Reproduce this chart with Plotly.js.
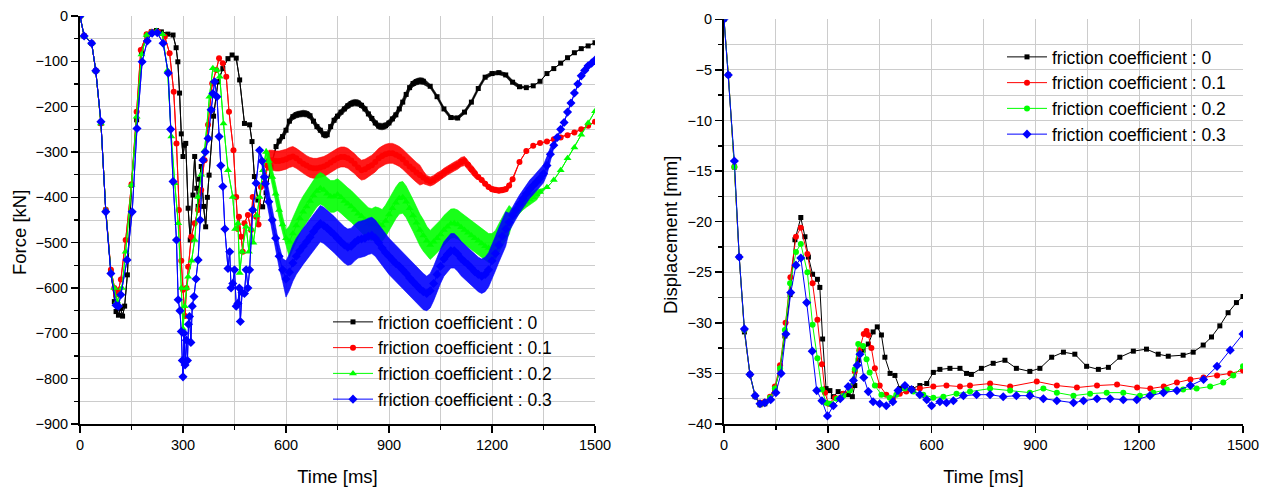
<!DOCTYPE html>
<html>
<head>
<meta charset="utf-8">
<script src="https://cdn.plot.ly/plotly-3.0.1.min.js"></script>
<style>html,body{margin:0;padding:0;background:#fff;}#chart{width:1270px;height:490px;}</style>
</head>
<body>
<div id="chart"></div>
<script>
// ---------- Left chart: Force [kN] vs Time [ms] ----------
const seriesNames = ['friction coefficient : 0','friction coefficient : 0.1','friction coefficient : 0.2','friction coefficient : 0.3'];

const forceT0 = [0,12,34,46,61,75,90,100,105,112,118,124,130,138,150,165,179,194,208,223,237,256,271,280,285,290,295,300,304,308,315,321,329,334,340,344,348,353,360,366,371,376,389,402,416,431,443,455,465,479,494,501,508,518,532,542,556,571,
580,590,600,610,620,630,640,650,660,670,680,690,700,710,720,730,740,750,760,770,780,790,800,810,820,830,840,850,860,870,880,890,900,910,920,930,940,950,960,970,980,990,1000,
1020,1040,1060,1080,1100,1120,1140,1160,1180,1200,1220,1240,1260,1280,1300,1320,1340,1360,1380,1400,1420,1440,1460,1480,1500];
const force0 = [0,-44,-60,-121,-237,-428,-565,-630,-652,-660,-645,-662,-640,-571,-373,-229,-82,-42,-35,-32,-35,-40,-42,-70,-101,-170,-260,-310,-285,-281,-424,-494,-395,-310,-380,-420,-360,-332,-420,-465,-400,-351,-221,-145,-116,-94,-86,-93,-141,-237,-240,-277,-354,-406,-421,-390,-333,-288,
-276,-266,-252,-232,-222,-218,-216,-215,-216,-220,-232,-244,-252,-262,-262,-244,-230,-221,-212,-205,-198,-193,-191,-192,-197,-205,-216,-226,-236,-243,-244,-242,-236,-227,-218,-205,-190,-173,-158,-149,-145,-143,-144,
-155,-178,-205,-224,-225,-212,-190,-160,-135,-127,-125,-130,-146,-156,-158,-154,-144,-127,-116,-104,-92,-81,-72,-66,-59];
const spread0 = [0,0,0,0,0,0,0,0,0,0,0,0,0,0,0,0,0,0,0,0,0,0,0,0,0,0,0,0,0,0,0,0,0,0,0,0,0,0,0,0,0,0,0,0,0,0,0,0,0,0,0,0,0,0,0,0,0,4,
7,7,7,7,7,7,7,7,7,7,7,7,7,7,7,7,7,7,7,7,7,7,7,7,7,7,7,7,7,7,7,7,7,7,7,7,7,7,7,7,7,7,7,
4,4,4,4,4,4,4,4,4,4,4,4,4,4,0,0,0,0,0,0,0,0,0,0,0];

const forceT1 = [0,12,34,46,61,75,90,100,105,112,119,133,150,165,177,194,208,227,247,261,273,281,288,295,300,306,310,315,324,334,344,353,363,373,385,397,405,416,426,434,447,455,460,463,469,474,479,489,498,503,513,520,527,537,545,
550,560,570,580,590,600,610,620,630,640,650,660,670,680,690,700,710,720,730,740,750,760,770,780,790,800,810,820,830,840,850,860,870,880,890,900,910,920,930,940,950,960,970,980,990,1000,
1010,1020,1030,1040,1050,1060,1070,1080,1090,1100,1110,1120,1130,1140,1150,1160,1170,1180,1190,1200,1210,1220,1230,1240,1250,1260,
1280,1300,1320,1340,1360,1380,1400,1420,1440,1460,1480,1500];
const force1 = [0,-44,-60,-121,-237,-428,-560,-600,-615,-605,-581,-494,-371,-211,-75,-40,-35,-35,-46,-82,-167,-281,-428,-540,-604,-662,-600,-553,-487,-457,-428,-384,-318,-240,-149,-119,-93,-104,-134,-211,-296,-399,-470,-443,-487,-520,-457,-439,-472,-399,-443,-460,-377,-369,-330,
-318,-318,-320,-320,-318,-316,-312,-310,-314,-320,-326,-330,-334,-336,-336,-334,-332,-328,-323,-318,-314,-311,-311,-314,-319,-326,-334,-340,-338,-333,-329,-322,-314,-309,-305,-303,-303,-306,-310,-316,-324,-332,-338,-345,-351,-356,
-362,-365,-362,-356,-352,-346,-341,-336,-332,-328,-322,-320,-328,-338,-347,-355,-362,-370,-377,-382,-384,-385,-384,-382,-374,-360,
-322,-298,-286,-280,-277,-272,-268,-263,-257,-250,-242,-233];
const spread1 = [0,0,0,0,0,0,0,0,0,0,0,0,0,0,0,0,0,0,0,0,0,0,0,0,0,0,0,0,0,0,0,0,0,0,0,0,0,0,0,0,0,0,0,0,0,0,0,0,0,0,0,0,0,0,10,
22,22,22,22,22,22,22,22,22,22,22,22,22,22,22,22,22,22,22,22,22,22,22,22,22,22,22,22,22,22,22,22,22,22,22,22,22,22,22,22,22,22,22,22,22,14,
10,10,10,10,10,10,10,10,10,10,10,10,10,10,10,6,6,6,6,6,6,6,6,6,6,3,
0,0,0,0,0,0,0,0,0,0,0,0];

const forceT2 = [0,12,34,46,61,75,90,100,108,115,122,133,150,165,179,194,208,223,240,255,266,276,286,295,300,305,310,315,325,334,344,353,363,377,387,399,407,418,431,445,452,460,465,472,484,492,498,505,515,523,533,542,
550,560,570,580,590,600,610,620,630,640,650,660,670,680,690,700,710,720,730,740,750,760,770,780,790,800,810,820,830,840,850,860,870,880,890,900,910,920,930,940,950,960,970,980,990,1000,
1010,1020,1030,1040,1050,1060,1070,1080,1090,1100,1110,1120,1130,1140,1150,1160,1170,1180,1190,1200,1210,1220,1230,1240,1250,1260,1270,1280,
1290,1300,1310,1320,1330,1340,
1360,1380,1400,1420,1440,1460,1480,1500];
const force2 = [0,-44,-60,-121,-237,-428,-565,-600,-630,-615,-600,-520,-373,-222,-85,-42,-36,-33,-40,-120,-266,-369,-457,-600,-690,-640,-600,-575,-540,-494,-399,-350,-296,-178,-115,-119,-134,-237,-340,-399,-470,-457,-567,-520,-465,-520,-470,-500,-440,-399,-340,-300,
-320,-355,-392,-428,-460,-490,-498,-480,-462,-446,-432,-420,-408,-396,-386,-380,-384,-392,-398,-398,-394,-400,-408,-414,-420,-428,-436,-442,-450,-458,-460,-456,-458,-462,-452,-438,-424,-412,-402,-400,-410,-424,-440,-456,-472,-484,
-496,-505,-498,-490,-482,-472,-465,-458,-457,-460,-466,-472,-478,-484,-490,-496,-502,-508,-512,-512,-505,-490,-475,-462,-450,-440,-430,-421,
-416,-410,-405,-400,-394,-388,
-378,-362,-340,-314,-290,-262,-236,-210];
const spread2 = [0,0,0,0,0,0,0,0,0,0,0,0,0,0,0,0,0,0,0,0,0,0,0,0,0,0,0,0,0,0,0,0,0,0,0,0,0,0,0,0,0,0,0,0,0,0,0,0,0,0,0,8,
18,18,18,18,18,18,35,35,35,35,35,35,35,35,35,35,35,35,35,35,35,35,35,35,35,35,35,35,35,35,35,35,35,35,35,35,35,35,35,35,35,35,35,35,35,35,
32,32,32,32,32,32,32,32,32,32,32,32,32,32,32,32,32,32,32,32,32,32,32,32,32,14,14,14,
12,12,12,12,12,6,
0,0,0,0,0,0,0,0];

const forceT3 = [0,12,34,46,61,75,90,105,112,119,137,152,166,181,196,210,225,242,257,264,271,281,286,291,295,298,300,303,306,310,313,316,319,323,327,332,338,344,350,358,365,373,382,387,392,399,405,410,416,422,431,436,440,445,450,455,460,464,467,472,479,484,489,494,503,513,523,530,537,
540,550,560,570,580,590,600,610,620,630,640,650,660,670,680,690,700,710,720,730,740,750,760,770,780,790,800,810,820,830,840,850,860,870,880,890,900,910,920,930,940,950,960,970,980,990,1000,
1010,1020,1030,1040,1050,1060,1070,1080,1090,1100,1110,1120,1130,1140,1150,1160,1170,1180,1190,1200,1210,1220,1230,1240,1250,1260,1270,1280,1290,1300,1310,1320,1330,1340,1350,1360,1370,
1380,1390,1400,1410,1420,1430,1440,1450,1460,1470,1480,1490,1500];
const force3 = [0,-44,-60,-121,-233,-432,-568,-638,-640,-615,-538,-432,-248,-101,-55,-38,-37,-60,-126,-250,-365,-494,-626,-650,-696,-760,-796,-700,-770,-715,-760,-680,-663,-720,-640,-619,-580,-538,-450,-318,-300,-270,-207,-171,-145,-178,-266,-330,-376,-470,-557,-520,-600,-590,-560,-640,-634,-600,-674,-610,-612,-560,-600,-560,-428,-369,-296,-320,-355,
-370,-410,-450,-490,-530,-560,-580,-565,-545,-530,-518,-508,-498,-488,-476,-466,-458,-462,-468,-475,-482,-490,-498,-505,-510,-508,-500,-494,-492,-490,-486,-484,-490,-500,-512,-522,-530,-538,-546,-552,-560,-568,-578,-586,-594,-602,-608,
-612,-606,-590,-570,-552,-536,-526,-518,-518,-525,-535,-542,-548,-556,-564,-570,-574,-570,-560,-540,-524,-505,-486,-470,-455,-440,-428,-415,-403,-392,-382,-374,-366,-358,-348,-330,-305,
-285,-268,-250,-235,-212,-192,-170,-150,-132,-120,-110,-104,-97];
const spread3 = [0,0,0,0,0,0,0,0,0,0,0,0,0,0,0,0,0,0,0,0,0,0,0,0,0,0,0,0,0,0,0,0,0,0,0,0,0,0,0,0,0,0,0,0,0,0,0,0,0,0,0,0,0,0,0,0,0,0,0,0,0,0,0,0,0,0,0,10,20,
25,25,25,25,25,25,40,40,40,40,40,40,40,40,40,40,40,40,40,40,40,40,40,40,40,40,40,40,40,40,40,40,40,40,40,40,40,40,40,40,40,40,40,40,40,40,40,
38,38,38,38,38,38,38,38,38,38,38,38,38,38,38,38,38,38,38,38,38,38,38,38,20,20,20,20,20,20,20,20,20,20,20,20,15,
6,4,0,0,0,0,0,0,0,0,0,0,0];

// ---------- Right chart: Displacement [mm] vs Time [ms] ----------
const dispT0 = [0,12.5,30,44,59,75,90,104,118,133,147,162,176,191,205,222,234,244,256,270,277,285,295,306,316,330,345,359,371,378,388,402,417,431,443,455,465,480,494,508,523,542,566,586,605,624,653,682,701,715,744,778,812,845,884,913,947,981,1014,1048,1082,1111,1144,1183,1221,1255,1284,1327,1356,1385,1409,1433,1457,1481,1500];
const disp0 = [0,-5.5,-14.6,-23.5,-30.9,-35.1,-37.3,-38.1,-38.0,-37.5,-36.5,-34.6,-31.3,-27.2,-21.8,-19.6,-21.5,-23.5,-25.2,-25.7,-26.5,-31.6,-36.5,-36.7,-37.3,-36.8,-37.0,-37.1,-37.3,-36.2,-33.7,-32.7,-32.1,-30.9,-30.4,-31.2,-33.4,-35.0,-35.2,-36.5,-36.5,-36.5,-36.2,-36.0,-34.9,-34.6,-34.5,-34.5,-35.0,-35.1,-34.5,-34.0,-33.7,-34.5,-34.8,-34.5,-33.4,-32.9,-33.1,-34.3,-34.6,-34.4,-33.4,-32.8,-32.6,-33.1,-33.3,-33.2,-32.9,-32.2,-31.4,-30.3,-29.0,-28.0,-27.4];

const dispT1 = [0,12.5,30,44,59,75,90,104,118,133,147,162,178,192,208,222,241,256,270,283,292,302,321,345,364,378,391,404,412,417,426,436,450,469,488,508,527,547,566,605,643,682,711,769,827,904,962,1020,1078,1136,1194,1232,1271,1309,1348,1386,1425,1463,1500];
const disp1 = [0,-5.5,-14.6,-23.5,-30.7,-35.1,-37.2,-37.9,-37.8,-37.3,-36.3,-34.2,-30.0,-25.5,-21.5,-20.6,-23.2,-26.1,-29.7,-34.1,-36.9,-38.0,-37.4,-37.0,-36.5,-34.8,-32.7,-31.1,-30.8,-31.2,-32.5,-34.5,-36.2,-37.1,-37.5,-37.0,-36.8,-36.7,-36.5,-36.3,-36.2,-36.3,-36.2,-36.0,-36.3,-35.8,-36.2,-36.4,-36.2,-36.1,-36.4,-36.5,-36.3,-35.9,-35.6,-35.4,-35.2,-35.0,-34.7];

const dispT2 = [0,12.5,30,44,59,75,90,104,118,133,147,162,176,191,208,222,241,256,270,283,295,306,326,345,364,378,388,402,412,421,436,455,479,498,523,547,576,605,634,672,711,769,827,884,923,962,1010,1058,1106,1154,1202,1241,1280,1327,1366,1405,1443,1472,1500];
const disp2 = [0,-5.5,-14.6,-23.5,-30.7,-35.1,-37.2,-38.0,-37.9,-37.4,-36.5,-34.5,-30.7,-26.1,-23.0,-22.2,-25.0,-30.2,-33.5,-36.6,-37.9,-38.0,-37.5,-37.2,-36.7,-34.6,-32.1,-32.3,-33.6,-34.9,-36.2,-37.1,-37.4,-37.1,-36.5,-36.8,-37.1,-37.4,-37.3,-37.0,-36.8,-36.5,-36.7,-36.9,-36.5,-36.9,-37.2,-37.0,-36.9,-36.9,-37.2,-36.9,-36.6,-36.6,-36.5,-36.3,-35.9,-35.2,-34.3];

const dispT3 = [0,12.5,30,44,59,75,90,104,118,135,150,165,179,193,208,222,239,255,268,283,299,316,336,359,374,385,393,404,417,431,450,469,488,503,523,542,566,586,600,624,643,663,692,730,769,807,845,884,923,962,1010,1039,1078,1116,1154,1193,1231,1270,1309,1348,1386,1425,1463,1500];
const disp3 = [0,-5.5,-14.0,-23.5,-30.6,-35.1,-37.2,-38.0,-37.9,-37.6,-36.9,-35.0,-31.1,-27.0,-24.3,-23.6,-28.0,-32.8,-36.7,-37.7,-39.2,-38.2,-37.5,-36.3,-35.7,-34.2,-33.1,-35.4,-36.8,-37.8,-38.0,-38.2,-37.8,-36.7,-36.2,-36.6,-37.1,-37.6,-38.2,-37.8,-37.9,-37.7,-37.2,-37.1,-37.1,-37.3,-37.2,-37.2,-37.5,-37.7,-37.9,-37.7,-37.5,-37.5,-37.6,-37.6,-37.2,-36.9,-36.7,-36.2,-35.6,-34.3,-32.7,-31.1];

// ---------- styling ----------
const colors = ['#000000','#ff0000','#00ff00','#0000ff'];
const bandFill = ['rgba(0,0,0,0.9)','rgba(255,0,0,0.9)','rgba(0,255,0,0.9)','rgba(0,0,255,0.9)'];
const leftSymbols = ['square','circle','triangle-up','diamond'];
const rightSymbols = ['square','circle','circle','diamond'];
const symSizes = {'square':5,'circle':6,'triangle-up':7,'diamond':7};

const forceSets = [[forceT0,force0,spread0],[forceT1,force1,spread1],[forceT2,force2,spread2],[forceT3,force3,spread3]];
const dispSets = [[dispT0,disp0],[dispT1,disp1],[dispT2,disp2],[dispT3,disp3]];

const traces = [];
forceSets.forEach(([t,f,s],k)=>{
  const upper = f.map((v,i)=>v+s[i]);
  const lower = f.map((v,i)=>v-s[i]);
  traces.push({x:t,y:upper,xaxis:'x',yaxis:'y',mode:'lines',line:{color:colors[k],width:0.6},showlegend:false,hoverinfo:'skip'});
  traces.push({x:t,y:lower,xaxis:'x',yaxis:'y',mode:'lines',fill:'tonexty',fillcolor:bandFill[k],line:{color:colors[k],width:0.6},showlegend:false,hoverinfo:'skip'});
  traces.push({x:t,y:f,xaxis:'x',yaxis:'y',mode:'lines+markers',name:seriesNames[k],legend:'legend',
    line:{color:colors[k],width:1},marker:{symbol:leftSymbols[k],size:symSizes[leftSymbols[k]],color:colors[k]}});
});
dispSets.forEach(([t,d],k)=>{
  traces.push({x:t,y:d,xaxis:'x2',yaxis:'y2',mode:'lines+markers',name:seriesNames[k],legend:'legend2',
    line:{color:colors[k],width:1},marker:{symbol:rightSymbols[k],size:symSizes[rightSymbols[k]],color:colors[k]}});
});

const W=1270,H=490;
const gridC='#cccccc';
function xax(domain,anchor){
  return {domain:domain,anchor:anchor,range:[0,1500],tick0:0,dtick:300,ticks:'outside',ticklen:7,tickwidth:1.5,tickcolor:'#000',
    showline:true,linecolor:'#000',linewidth:2,showgrid:true,gridcolor:gridC,gridwidth:1,zeroline:false,automargin:false,
    minor:{dtick:150,tick0:0,ticks:'outside',ticklen:4,tickwidth:1.5,tickcolor:'#000',showgrid:true,gridcolor:gridC,gridwidth:1},
    tickfont:{size:14.5,color:'#000'},title:{text:'Time [ms]',font:{size:18.5,color:'#000'},standoff:18}};
}
function yax(domain,anchor,range,dt,mdt){
  return {domain:domain,anchor:anchor,range:range,tick0:0,dtick:dt,ticks:'outside',ticklen:7,tickwidth:1.5,tickcolor:'#000',
    showline:true,linecolor:'#000',linewidth:2,showgrid:true,gridcolor:gridC,gridwidth:1,zeroline:false,automargin:false,
    minor:{dtick:mdt,tick0:0,ticks:'outside',ticklen:4,tickwidth:1.5,tickcolor:'#000',showgrid:true,gridcolor:gridC,gridwidth:1},
    tickfont:{size:14.5,color:'#000'}};
}
const layout = {
  width:W,height:H,margin:{l:0,r:0,t:0,b:0},paper_bgcolor:'#fff',plot_bgcolor:'#fff',
  font:{family:'"Liberation Sans", Arial, sans-serif',size:14.5,color:'#000'},
  xaxis:xax([80/W,595/W],'y'),
  yaxis:yax([66/H,474/H],'x',[-900,0],100,50),
  xaxis2:xax([724/W,1243/W],'y2'),
  yaxis2:yax([66/H,470.7/H],'x2',[-40,0],5,2.5),
  legend:{x:328/W,y:(H-304)/H,xanchor:'left',yanchor:'top',bgcolor:'rgba(0,0,0,0)',borderwidth:0,font:{size:17.5,color:'#000'},itemwidth:40,traceorder:'normal'},
  legend2:{x:1002/W,y:(H-39)/H,xanchor:'left',yanchor:'top',bgcolor:'rgba(0,0,0,0)',borderwidth:0,font:{size:17.5,color:'#000'},itemwidth:40,traceorder:'normal'},
  annotations:[
    {text:'Force [kN]',xref:'paper',yref:'paper',x:19/W,y:(H-233)/H,textangle:-90,showarrow:false,xanchor:'center',yanchor:'middle',font:{size:18.5,color:'#000'}},
    {text:'Displacement [mm]',xref:'paper',yref:'paper',x:670/W,y:(H-235)/H,textangle:-90,showarrow:false,xanchor:'center',yanchor:'middle',font:{size:18.5,color:'#000'}}
  ],
  showlegend:true
};
Plotly.newPlot('chart',traces,layout,{displayModeBar:false,staticPlot:true});
</script>
</body>
</html>
